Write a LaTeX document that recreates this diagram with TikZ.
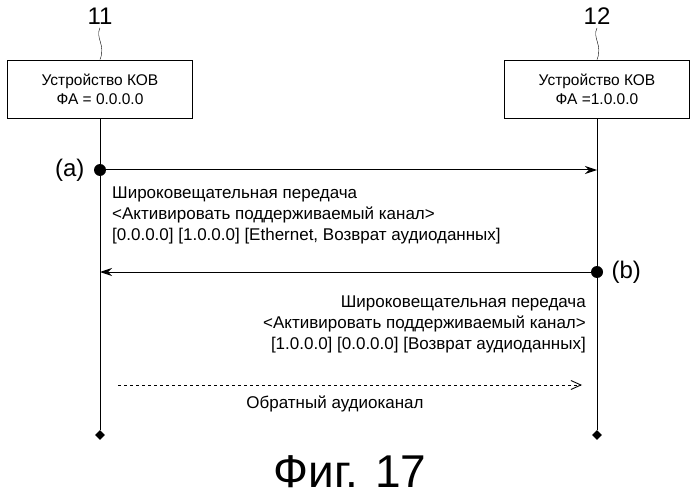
\documentclass[tikz,border=0pt]{standalone}
\usepackage{fontspec}
\setmainfont{Liberation Sans}
\usetikzlibrary{arrows.meta,shapes.geometric}
\begin{document}
\begin{tikzpicture}[x=1pt,y=-1pt,
  dev/.style={draw,line width=0.8pt,minimum width=185pt,minimum height=58pt,align=center,font=\fontsize{15.5}{19}\selectfont},
  life/.style={line width=0.9pt},
  msg/.style={line width=1pt,-{Stealth[length=12pt,width=8pt]}},
  txt/.style={font=\fontsize{17}{21}\selectfont},
  dotn/.style={circle,fill,inner sep=0pt,minimum size=12pt},
  endn/.style={diamond,fill,inner sep=0pt,minimum size=10pt}]
\useasboundingbox (0,0) rectangle (699,500);
\node[font=\fontsize{24}{24}\selectfont] (n11) at (100,16) {11};
\node[font=\fontsize{24}{24}\selectfont] (n12) at (597,16) {12};
\node[dev] (d1) at (100,89) {Устройство КОВ\\ФА = 0.0.0.0};
\node[dev] (d2) at (597,89) {Устройство КОВ\\ФА =1.0.0.0};
\draw (n11.south) .. controls (95,38) and (106,45) .. (d1.north);
\draw (n12.south) .. controls (592,38) and (603,45) .. (d2.north);
\node[endn] (e1) at (100,435) {};
\node[endn] (e2) at (597,435) {};
\draw[life] (d1.south) -- (e1);
\draw[life] (d2.south) -- (e2);
\node[dotn] (a) at (100,170) {};
\node[dotn] (b) at (597,272) {};
\coordinate (a2) at (597,170);
\coordinate (b2) at (100,272);
\node[font=\fontsize{24}{24}\selectfont,anchor=east] (la) at (88,170) {(a)};
\node[font=\fontsize{24}{24}\selectfont,anchor=west] (lb) at (608,272) {(b)};
\draw[msg] (a) -- (a2);
\draw[msg] (b) -- (b2);
\node[txt,anchor=north west,align=left,inner sep=0pt] (t1) at (112,187) {Широковещательная передача\\\textless Активировать поддерживаемый канал\textgreater\\{}[0.0.0.0] [1.0.0.0] [Ethernet, Возврат аудиоданных]};
\node[txt,anchor=north east,align=right,inner sep=0pt] (t2) at (586,296) {Широковещательная передача\\\textless Активировать поддерживаемый канал\textgreater\\{}[1.0.0.0] [0.0.0.0] [Возврат аудиоданных]};
\coordinate (c1) at (118,385);
\coordinate (c2) at (582,385);
\draw[dashed,line width=0.9pt,-{Straight Barb[length=10pt,width=9pt]}] (c1) -- (c2);
\node[txt] (t3) at (335,404) {Обратный аудиоканал};
\node[font=\fontsize{46}{46}\selectfont] (fig) at (350,472) {Фиг. 17};
\end{tikzpicture}
\end{document}
